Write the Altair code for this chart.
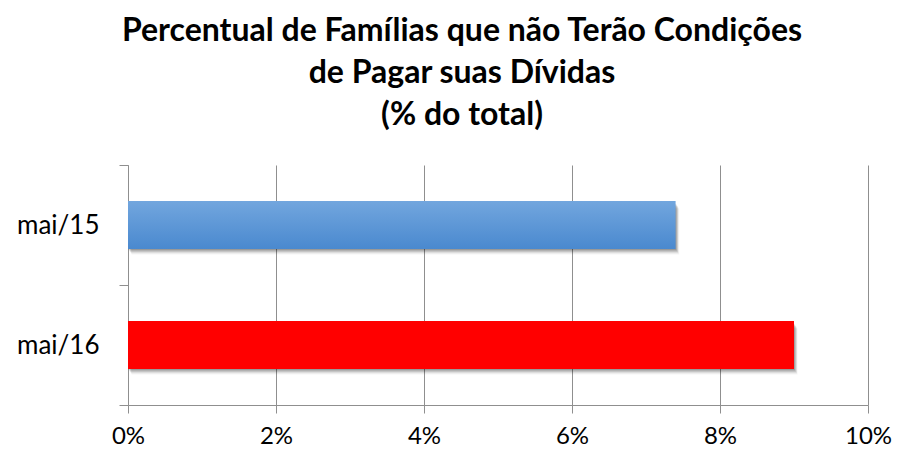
import altair as alt
import pandas as pd

categories = ["mai/15", "mai/16"]
values = [0.074, 0.090]
tick_values = [0, 0.02, 0.04, 0.06, 0.08, 0.10]

df = pd.DataFrame({"periodo": categories, "valor": values})

FONT = "Lato"
GRAY = "#8f8f8f"

y_enc = alt.Y(
    "periodo:N",
    sort=categories,
    title=None,
    scale=alt.Scale(paddingInner=0, paddingOuter=0),
    axis=alt.Axis(
        tickBand="extent",
        tickSize=9,
        tickColor=GRAY,
        domainColor=GRAY,
        labelPadding=20,
        labelFontSize=26,
        labelFont=FONT,
        labelColor="#000000",
        grid=False,
    ),
)
x_enc = alt.X(
    "valor:Q",
    title=None,
    scale=alt.Scale(domain=[0, 0.10], nice=False),
    axis=alt.Axis(
        values=tick_values,
        format=".0%",
        tickSize=8,
        tickColor=GRAY,
        domainColor=GRAY,
        gridColor=GRAY,
        grid=True,
        labelFlush=False,
        labelPadding=11,
        labelFontSize=24,
        labelFont=FONT,
        labelColor="#000000",
    ),
)

base = alt.Chart(df)

shadows = []
for off, op in [(1, 0.10), (2, 0.10), (3, 0.09), (4, 0.08), (5, 0.06), (6, 0.04)]:
    shadows.append(
        base.mark_bar(
            size=48 - 2,
            color="#000000",
            opacity=op,
            xOffset=off * 0.6,
            x2Offset=off * 0.6,
            yOffset=off * 0.9 + 1,
            y2Offset=off * 0.9 + 1,
        ).encode(x=x_enc, y=y_enc)
    )

blue = base.transform_filter(alt.datum.periodo == "mai/15").mark_bar(
    size=48,
    color=alt.Gradient(
        gradient="linear",
        x1=0, y1=0, x2=0, y2=1,
        stops=[alt.GradientStop(color="#72a6de", offset=0),
               alt.GradientStop(color="#4a89cf", offset=1)],
    ),
).encode(x=x_enc, y=y_enc)

red = base.transform_filter(alt.datum.periodo == "mai/16").mark_bar(
    size=48, color="#ff0000"
).encode(x=x_enc, y=y_enc)

chart = alt.layer(*shadows, blue, red).properties(
    width=740,
    height=240,
    autosize=alt.AutoSizeParams(type="none"),
    padding={"left": 120, "top": 157, "right": 26, "bottom": 44},
    title=alt.TitleParams(
        text=["Percentual de Famílias que não Terão Condições",
              "de Pagar suas Dívidas",
              "(% do total)"],
        font=FONT,
        fontSize=32,
        fontWeight="bold",
        color="#000000",
        anchor="middle",
        frame="group",
        dx=-36,
        lineHeight=42,
        offset=20,
    ),
).configure_view(stroke=None)

chart.save("out.html", embed_options={"renderer": "svg", "actions": False})
